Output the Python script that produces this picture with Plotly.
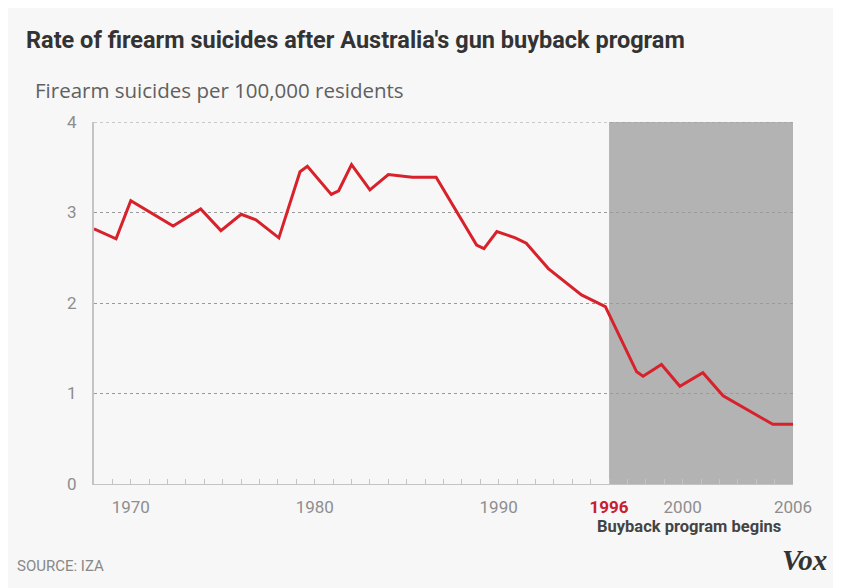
import plotly.graph_objects as go

# --- data ---
years = [1968.0, 1969.2, 1970.0, 1972.3, 1973.8, 1974.9, 1976.0, 1976.8, 1978.05,
         1979.2, 1979.6, 1980.9, 1981.3, 1982.0, 1983.0, 1984.0, 1985.3, 1986.6,
         1988.8, 1989.2, 1989.9, 1990.9, 1991.5, 1992.7, 1994.5, 1995.8,
         1997.5, 1997.85, 1998.85, 1999.85, 2001.1, 2002.2, 2004.3, 2004.9, 2006.0]
rate = [2.82, 2.71, 3.13, 2.85, 3.04, 2.80, 2.98, 2.92, 2.72,
        3.45, 3.51, 3.20, 3.24, 3.53, 3.25, 3.42, 3.39, 3.39,
        2.64, 2.60, 2.79, 2.72, 2.66, 2.38, 2.09, 1.96,
        1.24, 1.19, 1.32, 1.08, 1.23, 0.975, 0.73, 0.66, 0.66]

buyback_start = 1996
buyback_end = 2006
x_range = [1968, 2006]
y_max = 4
x_tickvals = [1970, 1980, 1990, 1996, 2000, 2006]
x_ticktext = ["1970", "1980", "1990",
              "<b><span style='color:#c8202e'>1996</span></b>", "2000", "2006"]
y_tickvals = [0, 1, 2, 3, 4]

TITLE = "Rate of firearm suicides after Australia's gun buyback program"
SUBTITLE = "Firearm suicides per 100,000 residents"
NOTE = "Buyback program begins"
SOURCE = "SOURCE: IZA"

BG = "#f7f7f7"
W, H = 833, 580  # page body margin adds 8px around the figure

fig = go.Figure()
fig.add_trace(go.Scatter(x=years, y=rate, mode="lines",
                         line=dict(color="#d7222c", width=3),
                         hoverinfo="x+y", showlegend=False))

fig.add_shape(type="rect", xref="x", yref="y", x0=buyback_start, x1=buyback_end,
              y0=0, y1=y_max, fillcolor="#b3b3b3", line=dict(width=0), layer="below")
# top gridline (plotly skips the grid line lying on the plot edge)
fig.add_shape(type="line", xref="x", yref="y", x0=x_range[0], x1=x_range[1],
              y0=y_max, y1=y_max, line=dict(color="#9a9a9a", width=1, dash="dot"),
              layer="below")

fig.update_layout(
    width=W, height=H,
    margin=dict(l=86, r=48, t=114, b=104),
    paper_bgcolor=BG, plot_bgcolor=BG,
    title=dict(text=TITLE, x=18 / W, xref="container", xanchor="left",
               y=1 - 32 / H, yref="container", yanchor="middle",
               font=dict(family="Roboto, sans-serif", size=23.5, color="#333333", weight="bold")),
    xaxis=dict(range=x_range, tickvals=x_tickvals, ticktext=x_ticktext,
               showgrid=False, zeroline=False,
               showline=True, linecolor="#c4c4c4", linewidth=1,
               ticks="inside", ticklen=5, tickcolor="#c4c4c4",
               minor=dict(dtick=1, ticks="inside", ticklen=5, tickcolor="#c4c4c4"),
               tickfont=dict(family="Roboto, sans-serif", size=17, color="#8e8e8e"),
               ticklabelstandoff=8),
    yaxis=dict(range=[0, y_max], tickvals=y_tickvals,
               showgrid=True, gridcolor="#9a9a9a", griddash="dot", gridwidth=1,
               zeroline=False, showline=True, linecolor="#c4c4c4", linewidth=2,
               ticks="", tickfont=dict(family="Roboto, sans-serif", size=17, color="#8e8e8e"),
               ticklabelstandoff=12),
    annotations=[
        dict(text=SUBTITLE, xref="paper", yref="paper", x=(33 - 94) / 699, y=(484.3 - 90) / 362.6,
             xanchor="left", yanchor="middle", showarrow=False,
             font=dict(family="Open Sans, sans-serif", size=20.5, color="#606060")),
        dict(text=NOTE, xref="x", yref="paper", x=buyback_start, xshift=-14,
             y=(484.3 - 527) / 362.6, xanchor="left", yanchor="middle", showarrow=False,
             font=dict(family="Roboto, sans-serif", size=16.5, color="#444444", weight="bold")),
        dict(text=SOURCE, xref="paper", yref="paper", x=(15 - 94) / 699, y=(484.3 - 566) / 362.6,
             xanchor="left", yanchor="middle", showarrow=False,
             font=dict(family="Roboto, sans-serif", size=15, color="#888888")),
        dict(text="<b><i>Vox</i></b>", xref="paper", yref="paper", x=(829 - 94) / 699,
             y=(484.3 - 560) / 362.6, xanchor="right", yanchor="middle", showarrow=False,
             font=dict(family="Liberation Serif, DejaVu Serif, serif", size=29, color="#333333")),
    ],
)

fig.write_html("out.html")
